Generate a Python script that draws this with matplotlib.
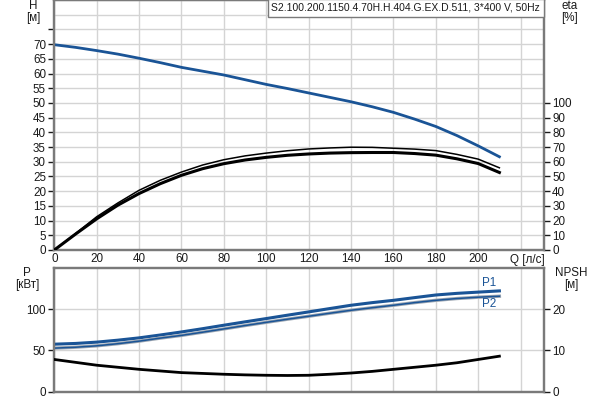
import matplotlib
matplotlib.use("Agg")
import matplotlib.pyplot as plt
import matplotlib.transforms as mtransforms

plt.rcParams["font.family"] = ["Liberation Sans", "DejaVu Sans"]
plt.rcParams["font.size"] = 8.4

# данные (шаг по Q = 10 л/с)
q = [0, 10, 20, 30, 40, 50, 60, 70, 80, 90, 100,
     110, 120, 130, 140, 150, 160, 170, 180, 190, 200, 210]
head = [69.8, 68.9, 67.8, 66.6, 65.2, 63.7, 62.1, 60.8, 59.5, 57.9, 56.3,
        54.9, 53.4, 51.9, 50.4, 48.7, 46.8, 44.5, 42.0, 38.9, 35.4, 31.7]
eta_upper = [0, 11.2, 22.6, 32.0, 40.6, 47.4, 53.0, 57.8, 61.4, 64.0, 65.9,
             67.5, 68.7, 69.4, 69.9, 69.8, 69.2, 68.6, 67.6, 65.0, 61.8, 55.9]
eta_lower = [0, 10.8, 21.2, 30.5, 38.4, 45.1, 50.8, 55.3, 58.7, 61.2, 63.0,
             64.4, 65.3, 65.9, 66.2, 66.3, 66.3, 65.6, 64.5, 62.0, 58.8, 52.7]
p1 = [57.6, 58.5, 60.1, 62.5, 65.3, 68.8, 72.5, 76.5, 80.7, 84.8, 88.8,
      92.9, 96.9, 101.0, 105.0, 108.2, 111.0, 114.3, 117.5, 119.5, 121.0, 122.5]
p2 = [52.8, 53.9, 55.6, 58.2, 61.3, 65.0, 68.3, 72.2, 76.2, 80.3, 84.2,
      88.0, 91.6, 95.3, 98.9, 102.0, 105.0, 108.2, 111.0, 113.2, 114.8, 116.0]
npsh = [7.8, 7.1, 6.4, 5.9, 5.4, 5.0, 4.6, 4.4, 4.2, 4.05, 3.95,
        3.9, 3.95, 4.2, 4.5, 4.9, 5.4, 5.9, 6.4, 7.0, 7.8, 8.6]

q_ticks = [0, 20, 40, 60, 80, 100, 120, 140, 160, 180, 200, 220]
q_labels = ["0", "20", "40", "60", "80", "100", "120", "140", "160", "180", "200", ""]
h_ticks = [0, 5, 10, 15, 20, 25, 30, 35, 40, 45, 50, 55, 60, 65, 70, 75]
eta_ticks = [0, 10, 20, 30, 40, 50, 60, 70, 80, 90, 100]
p_ticks = [0, 50, 100]
npsh_ticks = [0, 10, 20]

title = "S2.100.200.1150.4.70H.H.404.G.EX.D.511, 3*400 V, 50Hz"

blue = "#1a5496"
grid_c = "#d4d4d4"
spine_c = "#7a7a7a"
txt_c = "#1a1a1a"

fig = plt.figure(figsize=(6, 4), dpi=100)
ax1 = fig.add_axes([0.0905, 0.375, 0.816, 0.625])
ax2 = fig.add_axes([0.0905, 0.02125, 0.816, 0.308])


def style(ax):
    for s in ax.spines.values():
        s.set_color(spine_c)
        s.set_linewidth(1.6)
    ax.tick_params(colors=txt_c, length=4, width=1, direction="out", pad=2)
    ax.tick_params(axis="x", length=0)


# верхний график: напор и КПД
ax1.set_xlim(0, 231)
ax1.set_ylim(0, 85)
ax1.set_xticks(q_ticks)
ax1.set_xticklabels(q_labels)
ax1.set_yticks(h_ticks)
ax1.set_yticklabels([str(v) if v < 75 else "" for v in h_ticks])
ax1.set_yticks(range(0, 86, 5), minor=True)
ax1.grid(True, which="both", color=grid_c, linewidth=1)
ax1.tick_params(which="minor", length=0)
ax1.set_axisbelow(True)
style(ax1)

ax1.plot(q, head, color=blue, linewidth=2, zorder=3)

ax1e = ax1.twinx()
ax1e.set_ylim(0, 170)
ax1e.set_yticks(eta_ticks)
style(ax1e)
ax1e.plot(q, eta_upper, color="black", linewidth=1.1, zorder=3)
ax1e.plot(q, eta_lower, color="black", linewidth=2.2, zorder=3)

fig.text(33 / 600, 1 - 6 / 400, "H", ha="center", va="center", color=txt_c)
fig.text(33 / 600, 1 - 18 / 400, "[м]", ha="center", va="center", color=txt_c)
fig.text(570 / 600, 1 - 6 / 400, "eta", ha="center", va="center", color=txt_c, zorder=20)
fig.text(570 / 600, 1 - 18 / 400, "[%]", ha="center", va="center", color=txt_c, zorder=20)

trans = mtransforms.blended_transform_factory(ax1.transData, ax1.transAxes)
ax1.text(215, -0.04, "Q [л/с]", transform=trans, ha="left", va="center", color=txt_c)

fig.text(540 / 600, 1 - 8 / 400, title, ha="right", va="center", color=txt_c, fontsize=7.5,
         bbox=dict(boxstyle="square,pad=0.35", facecolor="white", edgecolor=spine_c, linewidth=1),
         zorder=10)

# нижний график: мощность и NPSH
ax2.set_xlim(0, 231)
ax2.set_ylim(0, 150)
ax2.set_xticks(q_ticks)
ax2.set_xticklabels([])
ax2.set_yticks(p_ticks)
ax2.grid(True, color=grid_c, linewidth=1)
ax2.set_axisbelow(True)
style(ax2)

ax2.plot(q, p1, color=blue, linewidth=2.2, zorder=3)
ax2.plot(q, p2, color="#9aa4b0", linewidth=2.4, zorder=3)
ax2.plot(q, p2, color=blue, linewidth=1.1, zorder=4)
ax2.text(205, 132, "P1", color=blue, ha="center", va="center")
ax2.text(205, 107, "P2", color=blue, ha="center", va="center")

ax2n = ax2.twinx()
ax2n.set_ylim(0, 30)
ax2n.set_yticks(npsh_ticks)
style(ax2n)
ax2n.plot(q, npsh, color="black", linewidth=2, zorder=3)

fig.text(27 / 600, 1 - 273 / 400, "P", ha="center", va="center", color=txt_c)
fig.text(27 / 600, 1 - 285 / 400, "[кВт]", ha="center", va="center", color=txt_c)
fig.text(571 / 600, 1 - 273 / 400, "NPSH", ha="center", va="center", color=txt_c)
fig.text(571 / 600, 1 - 285 / 400, "[м]", ha="center", va="center", color=txt_c)

fig.savefig("out.png", dpi=100)
